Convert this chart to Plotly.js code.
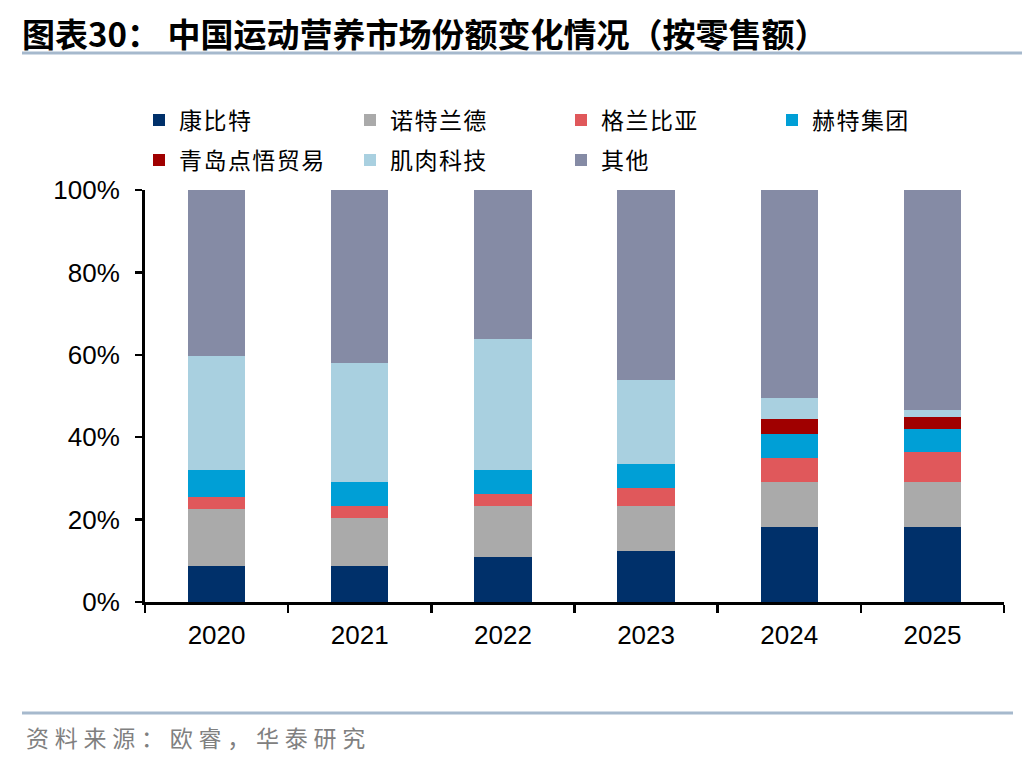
<!DOCTYPE html>
<html><head><meta charset="utf-8">
<script src="https://cdn.plot.ly/plotly-3.0.1.min.js"></script>
<style>body{margin:0;background:#fff}#c{width:1036px;height:760px}</style>
</head><body><div id="c"></div>
<script>
const years = ['2020','2021','2022','2023','2024','2025'];
const seriesNames = ['康比特','诺特兰德','格兰比亚','赫特集团','青岛点悟贸易','肌肉科技','其他'];
const kangbite   = [8.7, 8.7, 10.9, 12.3, 18.2, 18.2];
const nuotelande = [13.8, 11.6, 12.3, 10.9, 10.9, 10.9];
const gelanbiya  = [2.9, 2.9, 2.9, 4.4, 5.8, 7.2];
const hete       = [6.6, 5.9, 5.9, 5.8, 5.8, 5.8];
const qingdao    = [0, 0, 0, 0, 3.6, 2.9];
const jirou      = [27.6, 29.0, 31.9, 20.4, 5.1, 1.5];
const qita       = [40.4, 41.9, 36.1, 46.2, 50.6, 53.5];
const yTicks = [0, 20, 40, 60, 80, 100];
const yTickText = ['0%', '20%', '40%', '60%', '80%', '100%'];
const sourceText = '资料来源：欧睿，华泰研究';

const seriesValues = [kangbite, nuotelande, gelanbiya, hete, qingdao, jirou, qita];
const colors = ['#00306a', '#aaaaaa', '#e0585b', '#009fd6', '#a00000', '#a9d0e0', '#858ba5'];
const spaced = s => Array.from(s).join('\u200A');

const traces = seriesNames.map((n, i) => ({
  type: 'bar', name: spaced(n), x: years, y: seriesValues[i],
  legend: i < 4 ? 'legend' : 'legend2',
  marker: {color: colors[i], line: {width: 0}}, hoverinfo: 'skip'
}));

const L = 145, R = 1004, T = 190, B = 602;
const W = R - L, H = B - T;
const px = x => (x - L) / W;
const py = y => (B - y) / H;

const legendBase = {
  orientation: 'h', xref: 'container', yref: 'container',
  x: 139 / 1036, xanchor: 'left', yanchor: 'middle',
  entrywidth: 166, entrywidthmode: 'pixels',
  font: {family: 'Noto Sans CJK SC', size: 23, color: '#000'},
  traceorder: 'normal', itemclick: false, itemdoubleclick: false,
  bgcolor: 'rgba(0,0,0,0)'
};

const layout = {
  width: 1036, height: 760,
  margin: {l: L, r: 1036 - R, t: T, b: 760 - B, pad: 0, autoexpand: false},
  paper_bgcolor: '#fff', plot_bgcolor: '#fff',
  barmode: 'stack', bargap: 0.6,
  font: {family: 'Liberation Sans, Arial, sans-serif', color: '#000'},
  title: {
    text: '<b>图表30： 中国运动营养市场份额变化情况（按零售额）</b>',
    font: {family: 'Noto Sans CJK SC', size: 33, color: '#000'},
    xref: 'container', yref: 'container', x: 22 / 1036, xanchor: 'left',
    y: 1 - 35 / 760, yanchor: 'middle'
  },
  showlegend: true,
  legend: Object.assign({}, legendBase, {y: 1 - 120 / 760}),
  legend2: Object.assign({}, legendBase, {y: 1 - 160 / 760}),
  xaxis: {
    type: 'category', showgrid: false, zeroline: false,
    showline: true, linecolor: '#000', linewidth: 3,
    ticks: 'outside', tickson: 'boundaries', ticklen: 8, tickwidth: 2.5, tickcolor: '#000',
    tickfont: {size: 26, family: 'Liberation Sans, Arial, sans-serif'},
    ticklabelstandoff: 8, fixedrange: true
  },
  yaxis: {
    range: [0, 100], showgrid: false, zeroline: false,
    showline: true, linecolor: '#000', linewidth: 3,
    tickmode: 'array', tickvals: yTicks, ticktext: yTickText,
    ticks: 'outside', ticklen: 7, tickwidth: 2.5, tickcolor: '#000',
    tickfont: {size: 26, family: 'Liberation Sans, Arial, sans-serif'},
    ticklabelstandoff: 10, fixedrange: true
  },
  shapes: [
    {type: 'line', xref: 'paper', yref: 'paper', x0: px(22), x1: px(1022), y0: py(53), y1: py(53),
     line: {color: '#a6b9cd', width: 3}},
    {type: 'line', xref: 'paper', yref: 'paper', x0: px(22), x1: px(1013), y0: py(713), y1: py(713),
     line: {color: '#a6b9cd', width: 3}}
  ],
  annotations: [
    {text: Array.from(sourceText).join('\u2005'), xref: 'paper', yref: 'paper', x: px(24), y: py(737),
     xanchor: 'left', yanchor: 'middle', showarrow: false,
     font: {family: 'Noto Sans CJK SC', size: 23, color: '#808080'}}
  ]
};

Plotly.newPlot('c', traces, layout, {staticPlot: true, displayModeBar: false});
</script></body></html>
